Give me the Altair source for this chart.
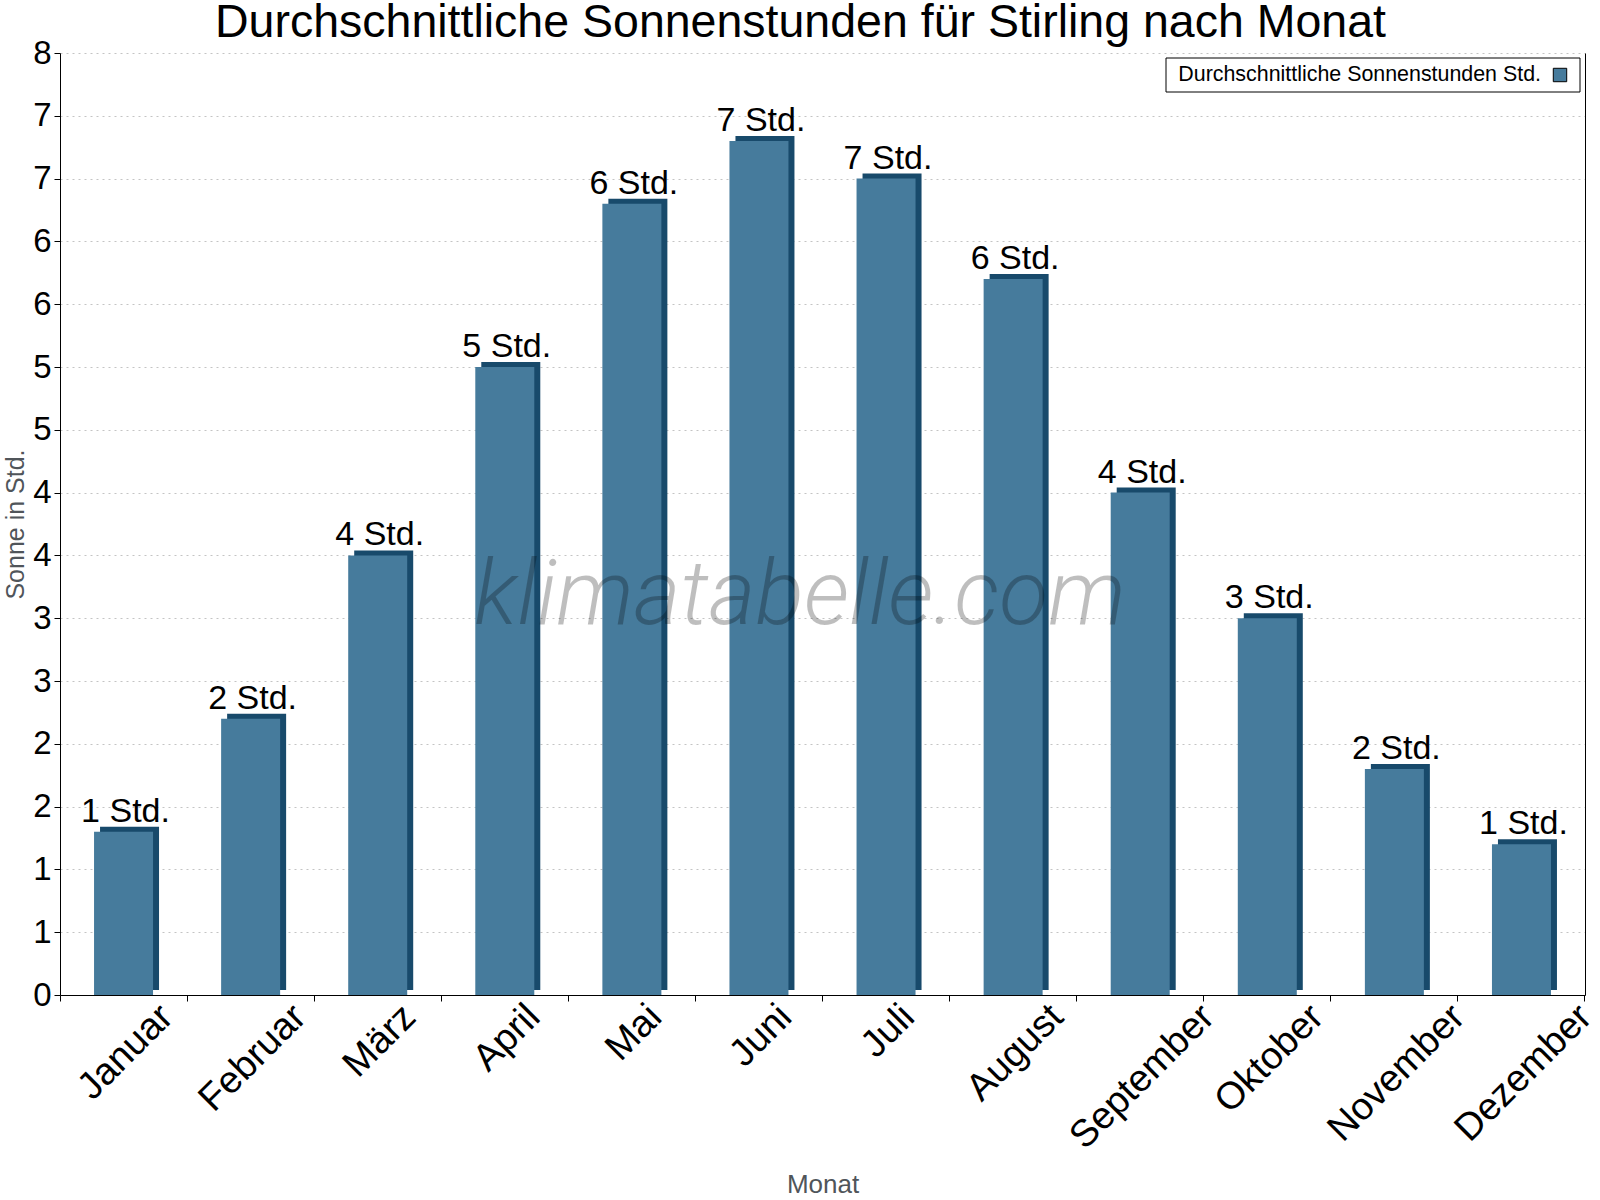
import math
import altair as alt
import pandas as pd

months = ["Januar", "Februar", "März", "April", "Mai", "Juni", "Juli",
          "August", "September", "Oktober", "November", "Dezember"]
sun_hours = [1.3, 2.2, 3.5, 5.0, 6.3, 6.8, 6.5, 5.7, 4.0, 3.0, 1.8, 1.2]
y_tick_values = [0, 0.5, 1, 1.5, 2, 2.5, 3, 3.5, 4, 4.5, 5, 5.5, 6, 6.5, 7, 7.5]
series_name = ["Durchschnittliche Sonnenstunden Std."]
title_text = "Durchschnittliche Sonnenstunden für Stirling nach Monat"
watermark_text = ["klimatabelle.com"]

MAIN = "#467b9c"
DARK = "#184a6b"
FONT = "Liberation Sans"
W, H = 1525, 942
XLAB_FS = 38

df = pd.DataFrame({"Monat": months, "Sonne": sun_hours})
wm = pd.DataFrame({"t": watermark_text})
leg = pd.DataFrame({"Serie": series_name})

x_axis = alt.Axis(
    title="Monat", titleFont=FONT, titleFontSize=26, titleFontWeight="normal",
    titleColor="#50555a", titleY=189, titleBaseline="middle",
    labels=False,
    bandPosition=1, tickExtra=True, tickSize=6, tickColor="black",
    domainColor="black", grid=False,
)
x_enc = alt.X("Monat:N", sort=months,
              scale=alt.Scale(paddingInner=0, paddingOuter=0), axis=x_axis)

y_scale = alt.Scale(domain=[0, 7.5], nice=False, zero=True)
y_axis = alt.Axis(
    values=y_tick_values, format=".0f", title="Sonne in Std.",
    titleFont=FONT, titleFontSize=25, titleFontWeight="normal", titleColor="#50555a",
    titleX=-45, titleY=H / 2, titleAlign="center", titleBaseline="middle",
    labelFont=FONT, labelFontSize=33, labelColor="black", labelPadding=3,
    tickSize=6, tickColor="black", domainColor="black",
    grid=True, gridColor="#c4c4c4", gridDash=[2, 4], gridWidth=1,
)

base = alt.Chart(df)

shade = base.mark_bar(size=59, color=DARK, xOffset=6, x2Offset=6,
                      yOffset=-5, y2Offset=-5).encode(
    x=x_enc, y=alt.Y("Sonne:Q", scale=y_scale, axis=None))

bars = base.mark_bar(size=59, color=MAIN).encode(
    x=x_enc,
    y=alt.Y("Sonne:Q", scale=y_scale, axis=y_axis),
)

watermark = alt.Chart(wm).mark_text(
    font="Roboto", fontStyle="italic", fontWeight=300, fontSize=90,
    color="black", opacity=0.25, align="center", baseline="alphabetic",
).encode(x=alt.value(740), y=alt.value(571), text="t:N")

labels = base.transform_calculate(
    lab="format(datum.Sonne, '.0f') + ' Std.'"
).mark_text(font=FONT, fontSize=34, color="black", baseline="alphabetic",
            dy=-10, dx=2).encode(
    x=x_enc, y=alt.Y("Sonne:Q", scale=y_scale, axis=None), text="lab:N")


# month labels: rotated about their centre, so the shift grows with text width
def n(cls):
    return ("(length(datum.Monat) - length(replace(datum.Monat, regexp('%s', 'g'), '')))" % cls)


width_em = ("(0.556*length(datum.Monat) - 0.334*%s - 0.278*%s - 0.223*%s - 0.056*%s"
            " + 0.277*%s + 0.111*%s + 0.222*%s + 0.166*%s + 0.055*%s)") % (
    n("[il]"), n("[tf]"), n("r"), n("[Jzsvk]"), n("[Mm]"), n("[AS]"), n("O"),
    n("[ND]"), n("F"))
shift_expr = "%f * %s" % (0.354 * XLAB_FS, width_em)

month_labels = base.mark_text(
    font=FONT, fontSize=XLAB_FS, color="black", angle=315,
    align="right", baseline="top", xOffset=-11,
    radius=alt.ExprRef(shift_expr), theta=math.pi / 2,
).encode(x=x_enc, y=alt.value(H + 3), text="Monat:N")

border = base.mark_rule(opacity=0).encode(
    y=alt.Y("Sonne:Q", scale=y_scale,
            axis=alt.Axis(orient="right", labels=False, ticks=False, grid=False,
                          title=None, domainColor="black")))

# legend box (guide, drawn by hand so the swatch sits right of the label)
leg_base = alt.Chart(leg)
leg_box = leg_base.mark_rect(fill="white", stroke="black", strokeWidth=1).encode(
    x=alt.value(1106), x2=alt.value(1520), y=alt.value(5), y2=alt.value(39))
leg_text = leg_base.mark_text(font=FONT, fontSize=21.4, color="black",
                              align="right", baseline="middle").encode(
    x=alt.value(1481), y=alt.value(22), text="Serie:N")
leg_sym = leg_base.mark_point(shape="square", size=180, filled=True, fill=MAIN,
                              stroke="black", strokeWidth=1, opacity=1).encode(
    x=alt.value(1500), y=alt.value(22))

chart = alt.layer(shade, bars, watermark, labels, month_labels, border,
                  leg_box, leg_text, leg_sym).resolve_axis(
    y="independent"
).properties(
    width=W, height=H,
    title=alt.TitleParams(title_text, font=FONT, fontSize=46.5, fontWeight="normal",
                          color="black", anchor="middle", dx=-22, offset=-9),
    autosize=alt.AutoSizeParams(type="none"),
    padding={"left": 60, "top": 53, "right": 15, "bottom": 205},
).configure_view(stroke=None)

chart.save("out.html", embed_options={"renderer": "svg", "actions": False})
